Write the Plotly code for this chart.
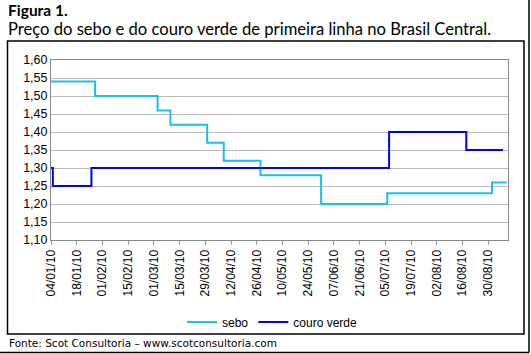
import plotly.graph_objects as go

# ---- data ----
sebo_dates = ["2010-01-04", "2010-01-28", "2010-03-03", "2010-03-10", "2010-03-30",
              "2010-04-08", "2010-04-28", "2010-05-31", "2010-07-06", "2010-09-01", "2010-09-09"]
sebo_vals = [1.54, 1.50, 1.46, 1.42, 1.37, 1.32, 1.28, 1.20, 1.23, 1.26, 1.26]

couro_dates = ["2010-01-04", "2010-01-05", "2010-01-26", "2010-07-07", "2010-08-18", "2010-09-07"]
couro_vals = [1.30, 1.25, 1.30, 1.40, 1.35, 1.35]

title_txt = "Figura 1."
subtitle_txt = "Preço do sebo e do couro verde de primeira linha no Brasil Central."
source_txt = "Fonte: Scot Consultoria – www.scotconsultoria.com"

W, H = 531, 354
L, R, T, B = 51, 508, 60, 240  # plot area in px


def px(x):
    return (x - L) / (R - L)


def py(y):
    return (B - y) / (B - T)


fig = go.Figure()
fig.add_trace(go.Scatter(x=sebo_dates, y=sebo_vals, name="sebo", mode="lines",
                         line=dict(color="#18C0F0", width=2, shape="hv")))
fig.add_trace(go.Scatter(x=couro_dates, y=couro_vals, name="couro verde", mode="lines",
                         line=dict(color="#0000FF", width=2, shape="hv")))

font = "Liberation Sans"

fig.update_layout(
    width=W, height=H,
    margin=dict(l=L, r=W - R, t=T, b=H - B),
    paper_bgcolor="white", plot_bgcolor="white",
    separators=",.",
    font=dict(family=font, size=12, color="black"),
    showlegend=True,
    legend=dict(orientation="h", x=px(182), xanchor="left", y=py(322), yanchor="middle",
                font=dict(family=font, size=12), itemwidth=30, bgcolor="rgba(0,0,0,0)"),
    xaxis=dict(type="date", range=["2010-01-04", "2010-09-09 17:00"],
               tick0="2010-01-04", dtick=14 * 86400000, tickformat="%d/%m/%y",
               tickangle=-90, ticks="outside", ticklen=4, tickcolor="#999999",
               showgrid=False, showline=True, linecolor="#888888", mirror=True,
               tickfont=dict(family=font, size=12)),
    yaxis=dict(range=[1.10, 1.60], dtick=0.05, tick0=1.10, tickformat=".2f",
               showgrid=True, gridcolor="#BBBBBB", gridwidth=1,
               showline=True, linecolor="#888888", mirror=True, zeroline=False,
               ticks="", tickfont=dict(family=font, size=12.5)),
    shapes=[
        dict(type="rect", xref="paper", yref="paper", x0=px(7.5), x1=px(524), y0=py(41), y1=py(334),
             line=dict(color="black", width=1.5), layer="below"),
        dict(type="line", xref="paper", yref="paper", x0=px(529), x1=px(529), y0=py(0), y1=py(352.5),
             line=dict(color="black", width=1.5)),
        dict(type="line", xref="paper", yref="paper", x0=px(0), x1=px(529), y0=py(352.5), y1=py(352.5),
             line=dict(color="black", width=1.5)),
    ],
    annotations=[
        dict(text="<b>" + title_txt + "</b>", xref="paper", yref="paper", x=px(7), y=py(10),
             xanchor="left", yanchor="middle", showarrow=False, borderpad=0,
             font=dict(family="Lato", size=15.5, color="black")),
        dict(text=subtitle_txt, xref="paper", yref="paper", x=px(7), y=py(29.5),
             xanchor="left", yanchor="middle", showarrow=False, borderpad=0,
             font=dict(family="Lato", size=16.6, color="black")),
        dict(text=source_txt, xref="paper", yref="paper", x=px(7), y=py(343), xanchor="left", yanchor="middle",
             showarrow=False, font=dict(family="DejaVu Sans", size=10.5, color="black")),
    ],
)

fig.write_html("out.html")
